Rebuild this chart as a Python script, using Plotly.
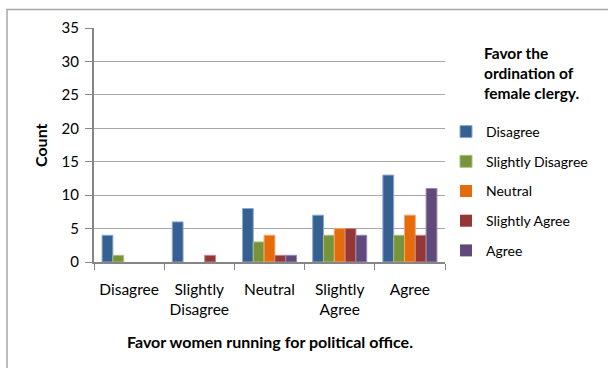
import plotly.graph_objects as go

categories = ["Disagree", "Slightly<br>Disagree", "Neutral", "Slightly<br>Agree", "Agree"]
series_names = ["Disagree", "Slightly Disagree", "Neutral", "Slightly Agree", "Agree"]
disagree = [4, 6, 8, 7, 13]
slightly_disagree = [1, 0, 3, 4, 4]
neutral = [0, 0, 4, 5, 7]
slightly_agree = [0, 1, 1, 5, 4]
agree = [0, 0, 1, 4, 11]
y_ticks = [0, 5, 10, 15, 20, 25, 30, 35]

series_values = [disagree, slightly_disagree, neutral, slightly_agree, agree]
colors = ["#376092", "#77933C", "#E46C0A", "#953735", "#604A7B"]
edges = ["#8EA9CF", "#A9C07A", "#F5A66A", "#C98684", "#9A87B2"]

FONT = "Lato"
fig = go.Figure()
for name, vals, c, e in zip(series_names, series_values, colors, edges):
    fig.add_trace(go.Bar(
        x=categories, y=vals, name=name, legendgroup=name,
        marker=dict(color=c, line=dict(color=e, width=[1 if v else 0 for v in vals])),
    ))

L, R, T, B = 94, 445, 28, 262
W, H = 608, 368
pw, ph = R - L, B - T

def px_x(p):
    return (p - L) / pw

def px_y(p):
    return (B - p) / ph

fig.update_layout(
    width=W, height=H,
    margin=dict(l=L, r=W - R, t=T, b=H - B, pad=0),
    paper_bgcolor="white", plot_bgcolor="white",
    barmode="group", bargap=0.23, bargroupgap=0,
    font=dict(family=FONT, size=14, color="#000000"),
    showlegend=True,
    legend=dict(
        x=px_x(446), y=px_y(116), xanchor="left", yanchor="top",
        traceorder="grouped", tracegroupgap=8.5,
        font=dict(family=FONT, size=14, color="#000000"),
        bgcolor="rgba(0,0,0,0)",
    ),
    xaxis=dict(
        showline=True, linecolor="#868686", linewidth=2,
        ticks="outside", tickson="boundaries", ticklen=6, tickcolor="#868686", tickwidth=1,
        showgrid=False, tickfont=dict(family=FONT, size=15.5),
        ticklabelstandoff=12,
    ),
    yaxis=dict(
        range=[0, 35], tickvals=y_ticks, showline=True, linecolor="#868686", linewidth=2,
        ticks="outside", ticklen=7, tickcolor="#868686", tickwidth=1,
        showgrid=True, gridcolor="#A6A6A6", gridwidth=1, zeroline=False,
        tickfont=dict(family=FONT, size=15), ticklabelstandoff=3,
    ),
    shapes=[dict(type="rect", xref="paper", yref="paper",
                 x0=px_x(7), y0=px_y(420), x1=px_x(700), y1=px_y(9.5),
                 line=dict(color="#A6A6A6", width=1.5), layer="below")],
    annotations=[
        dict(text="<b>Count</b>", xref="paper", yref="paper", x=px_x(40), y=px_y(145),
             textangle=-90, showarrow=False, font=dict(family=FONT, size=16),
             xanchor="center", yanchor="middle"),
        dict(text="<b>Favor women running for political office.</b>", xref="paper", yref="paper",
             x=px_x(269.5), y=px_y(341), showarrow=False, font=dict(family=FONT, size=16),
             xanchor="center", yanchor="middle"),
        dict(text="<b>Favor the<br>ordination of<br>female clergy.</b>", xref="paper", yref="paper",
             x=px_x(482), y=px_y(73), showarrow=False, font=dict(family=FONT, size=15.5),
             xanchor="left", yanchor="middle", align="left"),
    ],
)

fig.write_html("out.html")
